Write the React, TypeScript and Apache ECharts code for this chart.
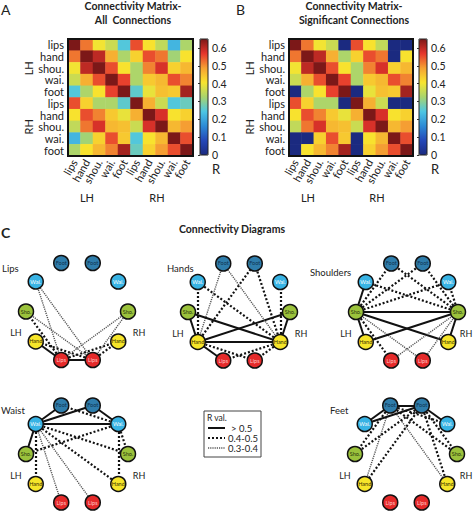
import React, { useEffect, useRef } from 'react';
import * as echarts from 'echarts';

// ---------------- DATA ----------------
const regions = ['lips', 'hand', 'shou.', 'wai.', 'foot'];
const hemispheres = ['LH', 'RH'];
const matrixLabels = [...regions, ...regions];
// R values between the 10 regions (LH lips..foot, RH lips..foot); diagonal = self (drawn black)
const allR = [
  [1, 0.52, 0.40, 0.36, 0.25, 0.55, 0.41, 0.35, 0.22, 0.33],
  [0.52, 1, 0.60, 0.47, 0.33, 0.43, 0.55, 0.52, 0.32, 0.41],
  [0.40, 0.60, 1, 0.55, 0.41, 0.33, 0.51, 0.58, 0.43, 0.46],
  [0.36, 0.47, 0.55, 1, 0.56, 0.33, 0.44, 0.46, 0.55, 0.51],
  [0.25, 0.33, 0.41, 0.56, 1, 0.26, 0.39, 0.45, 0.44, 0.62],
  [0.55, 0.43, 0.33, 0.33, 0.26, 1, 0.47, 0.36, 0.25, 0.27],
  [0.41, 0.55, 0.51, 0.44, 0.39, 0.47, 1, 0.58, 0.41, 0.43],
  [0.35, 0.52, 0.58, 0.46, 0.45, 0.36, 0.58, 1, 0.46, 0.49],
  [0.22, 0.32, 0.43, 0.55, 0.44, 0.25, 0.41, 0.46, 1, 0.55],
  [0.33, 0.41, 0.46, 0.51, 0.62, 0.27, 0.43, 0.49, 0.55, 1],
];
// pairs whose connection is not significant (set to 0 in matrix B)
const nonSignificant = [[0, 4], [0, 8], [0, 9], [1, 8], [4, 5], [5, 8], [5, 9]];
const colorMin = 0;
const colorMax = 0.65;
const colorTickStep = 0.1;

const nodeParts = ['Lips', 'Hand', 'Sho.', 'Wai.', 'Foot'];
const diagramTitles = ['Lips', 'Hands', 'Shoulders', 'Waist', 'Feet'];
// matrix indices placed clockwise round each diagram, starting at the right (RH shoulder)
const circleOrder = [7, 6, 5, 0, 1, 2, 3, 4, 9, 8];
const rClasses = ['> 0.5', '0.4-0.5', '0.3-0.4'];
const rBounds = [0.5, 0.4, 0.3];

// ---------------- STYLE / LAYOUT ----------------
const FONT = 'Lato, "Open Sans", sans-serif';
const jet = ['#1b2a80', '#2447b8', '#2c8bd6', '#4cc6e4', '#a8d46e', '#f8e52e', '#f5a133', '#e6352c', '#7c1818'];
const nodeFill = ['#e52a2a', '#f6e52a', '#9bc23c', '#38b3e4', '#2f7dab'];
const nodeText = ['#ffc4c4', '#3a2c00', '#27330b', '#ffffff', '#0f3350'];
const edgeStyles = [
  { type: 'solid', width: 2, color: '#111' },
  { type: [2, 2], width: 2.2, color: '#111' },
  { type: [1.2, 1], width: 1.4, color: '#555' },
];
const panels = [
  { left: 68, top: 39, width: 125, height: 117, cb: 200, title: ['Connectivity Matrix-', 'All  Connections'], tx: 133, letter: 'A', lx: 1, gl: [87, 157], gy: 28 },
  { left: 289, top: 39, width: 124, height: 117, cb: 419, title: ['Connectivity Matrix-', 'Significant Connections'], tx: 354, letter: 'B', lx: 236, gl: [308, 377], gy: 249 },
];
const diagramCenters = [[77, 311.5], [239, 312], [407, 312], [77, 454], [406, 454]];

function classify(v: number) {
  if (v > rBounds[0]) return 0;
  if (v >= rBounds[1]) return 1;
  if (v >= rBounds[2]) return 2;
  return -1;
}

function sigMatrix() {
  const m = allR.map((r) => r.slice());
  nonSignificant.forEach(([a, b]) => {
    m[a][b] = 0;
    m[b][a] = 0;
  });
  return m;
}

function txt(text: string, x: number, y: number, o: any = {}) {
  return {
    type: 'text',
    x,
    y,
    rotation: o.rotation || 0,
    silent: true,
    style: {
      text,
      fontSize: o.size || 11,
      fontWeight: o.bold ? 'bold' : 'normal',
      fontFamily: FONT,
      fill: o.color || '#222',
      textAlign: o.align || 'center',
      textVerticalAlign: 'middle',
    },
  };
}

function buildOption() {
  const matB = sigMatrix();
  const mats = [allR, matB];
  const grid: any[] = [];
  const xAxis: any[] = [];
  const yAxis: any[] = [];
  const series: any[] = [];
  const visualMap: any[] = [];
  const graphic: any[] = [];

  panels.forEach((p, k) => {
    const gi = grid.length;
    grid.push({ left: p.left, top: p.top, width: p.width, height: p.height, show: true, borderColor: '#111', borderWidth: 2, z: 10, backgroundColor: 'transparent' });
    grid.push({ left: p.cb, top: p.top, width: 8, height: p.height - 1, show: true, borderColor: '#222', borderWidth: 1, z: 10, backgroundColor: 'transparent' });
    const lab = { fontSize: 11, color: '#222', fontFamily: FONT, interval: 0, margin: 4 };
    xAxis.push({ gridIndex: gi, type: 'category', data: matrixLabels, axisLine: { show: false }, axisTick: { show: false }, splitLine: { show: false }, axisLabel: { ...lab, rotate: 60 } });
    yAxis.push({ gridIndex: gi, type: 'category', data: matrixLabels, inverse: true, axisLine: { show: false }, axisTick: { show: false }, splitLine: { show: false }, axisLabel: lab });
    xAxis.push({ gridIndex: gi + 1, type: 'value', show: false });
    yAxis.push({
      gridIndex: gi + 1, type: 'value', min: colorMin, max: colorMax, interval: colorTickStep, position: 'right',
      axisLine: { show: false }, splitLine: { show: false },
      axisTick: { show: true, inside: true, length: 2, lineStyle: { color: '#333' } },
      axisLabel: { fontSize: 10.5, color: '#222', fontFamily: FONT, margin: 4, showMaxLabel: false },
    });
    const cells: any[] = [];
    mats[k].forEach((row, y) => row.forEach((v, x) => cells.push([x, y, v])));
    series.push({ type: 'heatmap', xAxisIndex: gi, yAxisIndex: gi, data: cells, silent: true, emphasis: { disabled: true } });
    visualMap.push({
      type: 'continuous', seriesIndex: k, min: colorMin, max: colorMax, left: p.cb, top: p.top, itemWidth: 8, itemHeight: p.height - 1,
      padding: 0, calculable: false, hoverLink: false, inRange: { color: jet }, outOfRange: { color: '#1b1b1b' },
    });
    graphic.push(txt(p.letter, p.lx, 9, { size: 14, align: 'left' }));
    graphic.push(txt(p.title[0], p.tx, 6, { bold: true, size: 10.5 }));
    graphic.push(txt(p.title[1], p.tx, 20, { bold: true, size: 10.5 }));
    graphic.push(txt('R', p.cb + 12, 169, { size: 13, align: 'left' }));
    hemispheres.forEach((h, i) => {
      graphic.push(txt(h, p.gl[i], 197, { size: 11 }));
      graphic.push(txt(h, p.gy, p.top + p.height * (i * 2 + 1) / 4, { size: 11, rotation: Math.PI / 2 }));
    });
  });

  // ---- connectivity diagrams ----
  const polar: any[] = [];
  const angleAxis: any[] = [];
  const radiusAxis: any[] = [];
  const slotOf = (m: number) => circleOrder.indexOf(m);
  diagramTitles.forEach((title, d) => {
    const [cx, cy] = diagramCenters[d];
    polar.push({ center: [cx, cy], radius: 51 });
    angleAxis.push({ polarIndex: d, type: 'category', data: circleOrder.map((m) => hemispheres[Math.floor(m / 5)] + ' ' + regions[m % 5]), startAngle: 18, clockwise: true, show: false });
    radiusAxis.push({ polarIndex: d, type: 'value', min: 0, max: 1, show: false });
    const nodes = matrixLabels.map((_, m) => ({
      name: hemispheres[Math.floor(m / 5)] + ' ' + regions[m % 5],
      value: [1, slotOf(m)],
      itemStyle: { color: nodeFill[m % 5] },
      label: { formatter: nodeParts[m % 5], color: nodeText[m % 5] },
    }));
    const links: any[] = [];
    const focus = [d, d + 5];
    focus.forEach((f) => {
      for (let j = 0; j < 10; j++) {
        if (j === f) continue;
        if (f === d + 5 && j === d) continue; // pair already added from LH side
        const c = classify(matB[f][j]);
        if (c < 0) continue;
        links.push({ source: f, target: j, lineStyle: { ...edgeStyles[c], opacity: 1, curveness: 0 } });
      }
    });
    series.push({
      type: 'graph', coordinateSystem: 'polar', polarIndex: d, layout: 'none', symbol: 'circle', symbolSize: 15,
      data: nodes, links, silent: true, emphasis: { disabled: true },
      itemStyle: { borderColor: '#111', borderWidth: 1.5 },
      label: { show: true, position: 'inside', fontSize: 5.5, fontFamily: FONT },
      lineStyle: { opacity: 1 },
      z: 3,
    });
    const titleX = [2, 167, 310, 1, 330][d];
    graphic.push(txt(title, titleX, d < 3 ? (d === 2 ? 272 : 268) : 410, { size: 9.5, align: 'left' }));
    graphic.push(txt(hemispheres[0], cx - 61, cy + 21, { size: 9 }));
    graphic.push(txt(hemispheres[1], Math.min(cx + 62, 466), cy + 21, { size: 9 }));
  });

  graphic.push(txt('C', 1, 232, { size: 14, bold: true, align: 'left' }));
  graphic.push(txt('Connectivity Diagrams', 232, 229, { size: 10.5, bold: true }));

  // legend box
  graphic.push({ type: 'rect', shape: { x: 204, y: 411, width: 57, height: 46 }, style: { fill: '#fff', stroke: '#444', lineWidth: 1 }, silent: true });
  graphic.push(txt('R val.', 207, 418, { size: 8.5, align: 'left' }));
  rClasses.forEach((name, i) => {
    const y = 428 + i * 10;
    const s = edgeStyles[i];
    graphic.push({ type: 'line', shape: { x1: 208, y1: y, x2: 225, y2: y }, style: { stroke: s.color, lineWidth: s.width, lineDash: s.type === 'solid' ? null : s.type }, silent: true });
    graphic.push(txt(name, i === 0 ? 231 : 228, y, { size: 9.5, align: 'left' }));
  });

  return {
    animation: false,
    backgroundColor: '#ffffff',
    grid, xAxis, yAxis, visualMap, polar, angleAxis, radiusAxis, series, graphic,
  };
}

export default function App() {
  const ref = useRef<HTMLDivElement>(null);
  useEffect(() => {
    if (!ref.current) return;
    const chart = echarts.init(ref.current, undefined, { renderer: 'svg' });
    chart.setOption(buildOption() as any);
    return () => chart.dispose();
  }, []);
  return <div ref={ref} style={{ position: 'absolute', left: 0, top: 0, width: 474, height: 513 }} />;
}
